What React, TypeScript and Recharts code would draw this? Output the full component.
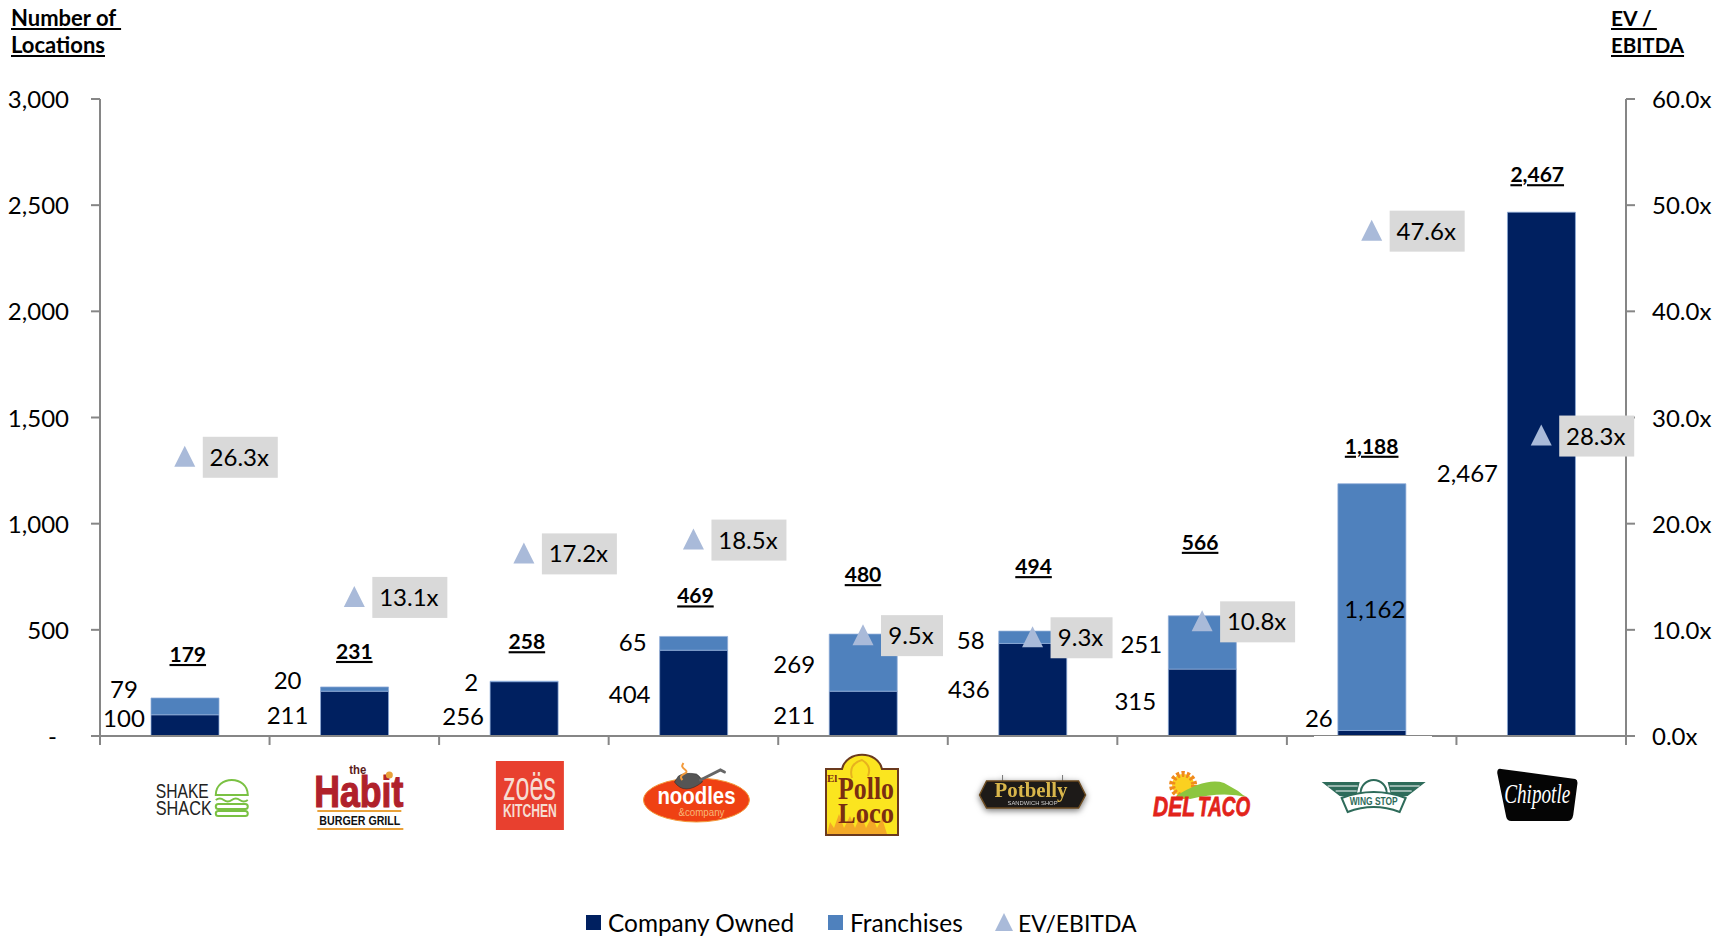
import { Bar, ComposedChart, LabelList, Legend, Line, XAxis, YAxis } from "recharts";

const chains = ["Shake Shack", "The Habit", "Zoës Kitchen", "Noodles & Company", "El Pollo Loco", "Potbelly", "Del Taco", "Wing Stop", "Chipotle"];
const companyOwned = [100, 211, 256, 404, 211, 436, 315, 26, 2467];
const franchises = [79, 20, 2, 65, 269, 58, 251, 1162, 0];
const totals = [179, 231, 258, 469, 480, 494, 566, 1188, 2467];
const evEbitda = [26.3, 13.1, 17.2, 18.5, 9.5, 9.3, 10.8, 47.6, 28.3];
const locationTicks = [0, 500, 1000, 1500, 2000, 2500, 3000];
const multipleTicks = [0, 10, 20, 30, 40, 50, 60];

const rows = chains.map((name, i) => ({
  name,
  owned: companyOwned[i],
  franchised: franchises[i],
  total: totals[i],
  multiple: evEbitda[i]
}));

// Hand placement of the data labels, as [dx, dy] from the default spot.
const ownedNudge = [[-61, -7], [-67, 1], [-61, 7], [-64, 1], [-69, 1], [-64, -1], [-67, -2], [-53, -15], [-74, -1]];
const franchiseNudge = [[-61, -17], [-67, -9], [-53, 1], [-61, -1], [-69, 1], [-62, 3], [-61, 2], [3, 2], [0, 0]];
const totalNudge = [[3, -43], [0, -35], [3, -39], [2, -40], [0, -59], [1, -64], [-2, -73], [0, -37], [-4, -37]];

const FONT = "Lato, sans-serif";
const NAVY = "#002060";
const BLUE = "#4F81BD";
const TRIANGLE = "#A9BAD9";
const AXIS = "#868686";
const EDGE = "#8FACD8";
const CHART_W = 1712;
const CHART_H = 937;
const PLOT_LEFT = 100;
const PLOT_RIGHT = 1626;
const BAND = (PLOT_RIGHT - PLOT_LEFT) / chains.length;

const fmt = (v: number) => v.toLocaleString("en-US");

const ShakeShack = () => (
  <g>
    <text x={-46} y={0} fontFamily="Liberation Sans Narrow, Liberation Sans" fontSize={20} textLength={53} lengthAdjust="spacingAndGlyphs" fill="#222">SHAKE</text>
    <text x={-46} y={17} fontFamily="Liberation Sans Narrow, Liberation Sans" fontSize={20} textLength={56} lengthAdjust="spacingAndGlyphs" fill="#222">SHACK</text>
    <g fill="none" stroke="#7AC143" strokeWidth={2}>
      <path d="M14 -3 C14 -23 46 -23 46 -3 Z" />
      <path d="M14 2 q4 -3 8 0 t8 0 t8 0 t8 0" />
      <rect x={14} y={6} width={32} height={5} rx={2.5} />
      <rect x={14} y={13} width={32} height={5} rx={2.5} />
    </g>
  </g>
);

const Habit = () => (
  <g>
    <text x={-10} y={-23} fontFamily="Liberation Sans" fontWeight={700} fontSize={13} textLength={17} lengthAdjust="spacingAndGlyphs" fill="#5a1a1a">the</text>
    <text x={-45} y={10} fontFamily="Liberation Sans" fontWeight={700} fontSize={44} textLength={89} lengthAdjust="spacingAndGlyphs" fill="#B0212B" stroke="#B0212B" strokeWidth={1.2}>Habit</text>
    <circle cx={30} cy={-22} r={3.5} fill="#E9A23B" />
    <rect x={-42} y={13} width={84} height={2} fill="#E9A23B" />
    <text x={-40} y={28} fontFamily="Liberation Sans" fontWeight={700} fontSize={13} textLength={81} lengthAdjust="spacingAndGlyphs" fill="#111">BURGER GRILL</text>
    <rect x={-42} y={31} width={86} height={2} fill="#E9A23B" />
  </g>
);

const Zoes = () => (
  <g>
    <rect x={-34} y={-35} width={68} height={69} fill="#E8402F" />
    <text x={-27} y={4} fontFamily="Liberation Sans Narrow, Liberation Sans" fontSize={40} textLength={53} lengthAdjust="spacingAndGlyphs" fill="#F6DDD3">zoës</text>
    <text x={-27} y={21} fontFamily="Liberation Sans Narrow, Liberation Sans" fontWeight={700} fontSize={18} textLength={54} lengthAdjust="spacingAndGlyphs" fill="#F6DDD3">KITCHEN</text>
  </g>
);

const Noodles = () => (
  <g>
    <ellipse cx={0} cy={4} rx={53} ry={22} fill="#EF4113" stroke="#F39A3B" strokeWidth={1} />
    <path d="M-22 -14 q10 14 28 0 q-2 -6 -6 -8 q-12 -2 -18 2 Z" fill="#555" stroke="#222" strokeWidth={0.5} />
    <path d="M4 -16 L24 -26 L28 -24" fill="none" stroke="#666" strokeWidth={3} strokeLinecap="round" />
    <path d="M-14 -16 c-6 -6 8 -6 3 -10 c-4 -3 -4 -4 -2 -7" fill="none" stroke="#F39A3B" strokeWidth={2} />
    <text x={-39} y={8} fontFamily="Liberation Sans" fontWeight={700} fontSize={23} textLength={78} lengthAdjust="spacingAndGlyphs" fill="#fff">noodles</text>
    <text x={-18} y={20} fontFamily="Liberation Sans" fontSize={10} textLength={46} lengthAdjust="spacingAndGlyphs" fill="#F7B77A">&company</text>
  </g>
);

const PolloLoco = () => (
  <g>
    <path d="M-36 -27 H-20 C-16 -46 16 -46 20 -27 H36 V39 H-36 Z" fill="#FBE51F" stroke="#6B3A1E" strokeWidth={2} />
    <path d="M-35 38 l3 -12 l4 6 l5 -14 l5 14 l6 -12 l5 12 l6 -14 l5 14 l6 -12 l5 12 l5 -10 l5 16 Z" fill="#F3A928" />
    <path d="M-10 -18 q-4 -14 10 -18 q10 6 6 16" fill="none" stroke="#E7B21F" strokeWidth={2} />
    <text x={-35} y={-14} fontFamily="Liberation Serif" fontWeight={700} fontSize={11} fill="#7A2E12">El</text>
    <text x={-24} y={3} fontFamily="Liberation Serif" fontWeight={700} fontSize={32} textLength={56} lengthAdjust="spacingAndGlyphs" fill="#7A2E12">Pollo</text>
    <text x={-24} y={27} fontFamily="Liberation Serif" fontWeight={700} fontSize={30} textLength={56} lengthAdjust="spacingAndGlyphs" fill="#7A2E12">Loco</text>
  </g>
);

const Potbelly = () => (
  <g style={{ filter: "drop-shadow(0 2px 3px rgba(0,0,0,0.55))" }}>
    <path d="M-30 -18 V-12 M30 -18 V-12" stroke="#777" strokeWidth={1} />
    <path d="M-46 -12 H46 L50 -4 L53 2 L46 15 H-46 L-53 2 L-50 -4 Z" fill="#1D1A18" stroke="#6B4A1F" strokeWidth={1.5} />
    <text x={-38} y={4} fontFamily="Liberation Serif" fontWeight={700} fontSize={20} textLength={73} lengthAdjust="spacingAndGlyphs" fill="#D9B64B">Potbelly</text>
    <text x={-25} y={12} fontFamily="Liberation Sans" fontSize={6} textLength={50} lengthAdjust="spacingAndGlyphs" fill="#CFCFCF">SANDWICH SHOP</text>
  </g>
);

const DelTaco = () => (
  <g>
    <circle cx={-17} cy={-8} r={11} fill="#FBD020" stroke="#F08A1D" strokeWidth={6} strokeDasharray="3 2" />
    <path d="M-24 3 Q6 -16 24 -10 L38 -2 Q42 2 47 4 Q22 -2 -10 6 Z" fill="#8CC63F" />
    <text x={-47} y={23} fontFamily="Liberation Sans" fontWeight={700} fontStyle="italic" fontSize={27} textLength={42} lengthAdjust="spacingAndGlyphs" fill="#E2231A" stroke="#E2231A" strokeWidth={0.8}>DEL</text>
    <text x={-2} y={23} fontFamily="Liberation Sans" fontWeight={700} fontStyle="italic" fontSize={27} textLength={52} lengthAdjust="spacingAndGlyphs" fill="#E2231A" stroke="#E2231A" strokeWidth={0.8}>TACO</text>
  </g>
);

const WingStop = () => (
  <g fill="#2E6B5A">
    <path d="M-52 -14 H-14 L-18 2 L-34 0 Z M52 -14 H14 L18 2 L34 0 Z" />
    <path d="M-46 -10 H-16 M-38 -5 H-17 M46 -10 H16 M38 -5 H17" stroke="#fff" strokeWidth={1.2} />
    <circle cx={0} cy={-3} r={13} fill="#fff" stroke="#2E6B5A" strokeWidth={2} />
    <path d="M-32 2 Q0 -10 32 2 L26 16 Q0 6 -26 16 Z" fill="#fff" stroke="#2E6B5A" strokeWidth={2} />
    <text x={-24} y={9} fontFamily="Liberation Sans" fontWeight={700} fontSize={10} textLength={48} lengthAdjust="spacingAndGlyphs">WING STOP</text>
  </g>
);

const Chipotle = () => (
  <g>
    <path d="M-36 -26 L38 -16 Q41 -15 40 -10 L36 20 Q35 26 30 26 H-26 Q-30 26 -31 22 L-40 -22 Q-40 -27 -36 -26 Z" fill="#050505" />
    <text x={-33} y={8} fontFamily="Liberation Serif" fontStyle="italic" fontSize={27} textLength={66} lengthAdjust="spacingAndGlyphs" fill="#fff">Chipotle</text>
  </g>
);

// Logo and its centre relative to the middle of each category band.
const logos: [() => React.ReactElement, number, number][] = [
  [ShakeShack, 17, 798],
  [Habit, 5, 797],
  [Zoes, 6, 796],
  [Noodles, 3, 796],
  [PolloLoco, -1, 796],
  [Potbelly, 0, 793],
  [DelTaco, -2, 793],
  [WingStop, 2, 796],
  [Chipotle, -4, 795]
];

const CategoryTick = (props: any) => {
  const { x, index } = props;
  const [Logo, dx, cy] = logos[index];
  const left = x - BAND / 2;
  return (
    <g>
      <line x1={left} x2={left} y1={736} y2={745} stroke={AXIS} strokeWidth={2} />
      {index === chains.length - 1 && <line x1={left + BAND} x2={left + BAND} y1={736} y2={745} stroke={AXIS} strokeWidth={2} />}
      <g transform={`translate(${x + dx} ${cy})`}>
        <Logo />
      </g>
    </g>
  );
};

const LocationTick = (props: any) => {
  const { x, y, payload } = props;
  const zero = payload.value === 0;
  return (
    <text x={zero ? x - 12 : x} y={y} dy={9} textAnchor="end" fontFamily={FONT} fontSize={24} fill="#000">
      {zero ? "-" : fmt(payload.value)}
    </text>
  );
};

const MultipleTick = (props: any) => {
  const { x, y, payload } = props;
  return (
    <text x={x} y={y} dy={9} textAnchor="start" fontFamily={FONT} fontSize={24} fill="#000">
      {payload.value.toFixed(1)}x
    </text>
  );
};

const segmentLabel = (nudge: number[][]) => (props: any) => {
  const { x, y, width, height, value, index } = props;
  if (!value) return null;
  const [dx, dy] = nudge[index];
  return (
    <text x={x + width / 2 + dx} y={y + height / 2 + dy} dy={9} textAnchor="middle" fontFamily={FONT} fontSize={24} fill="#000">
      {fmt(value)}
    </text>
  );
};

const TotalLabel = (props: any) => {
  const { x, y, value, index } = props;
  const [dx, dy] = totalNudge[index];
  return (
    <text x={x + dx} y={y + dy} dy={7} textAnchor="middle" fontFamily={FONT} fontSize={21} fontWeight={700} textDecoration="underline" fill="#000">
      {fmt(value)}
    </text>
  );
};

const TriangleDot = (props: any) => {
  const { cx, cy, index } = props;
  return <path key={index} d={`M${cx} ${cy - 11} L${cx + 10.5} ${cy + 10} H${cx - 10.5} Z`} fill={TRIANGLE} />;
};

const MultipleLabel = (props: any) => {
  const { x, y, value } = props;
  const text = `${value.toFixed(1)}x`;
  const w = text.length > 4 ? 75 : 62;
  return (
    <g>
      <rect x={x + 18} y={y - 20} width={w} height={41} fill="#D9D9D9" />
      <text x={x + 17 + w / 2} y={y} dy={9} textAnchor="middle" fontFamily={FONT} fontSize={24} fill="#000">
        {text}
      </text>
    </g>
  );
};

const LegendRow = () => {
  const text = { position: "absolute", top: 906, fontFamily: FONT, fontSize: 24, lineHeight: "34px", whiteSpace: "nowrap", color: "#000" } as const;
  const swatch = (left: number, background: string) => (
    <div style={{ position: "absolute", left, top: 915, width: 15, height: 15, background }} />
  );
  return (
    <div style={{ position: "absolute", left: 0, top: 0, height: 0 }}>
      {swatch(586, NAVY)}
      <span style={{ ...text, left: 608, fontSize: 24.4 }}>Company Owned</span>
      {swatch(828, BLUE)}
      <span style={{ ...text, left: 850, fontSize: 24.5 }}>Franchises</span>
      <svg style={{ position: "absolute", left: 994, top: 912 }} width={20} height={20}>
        <path d="M10 1 L19 19 H1 Z" fill={TRIANGLE} />
      </svg>
      <span style={{ ...text, left: 1018, fontSize: 23 }}>EV/EBITDA</span>
    </div>
  );
};

const headingStyle = {
  position: "absolute",
  fontFamily: FONT,
  fontWeight: 700,
  lineHeight: "28px",
  textDecoration: "underline",
  whiteSpace: "pre",
  color: "#000"
} as const;

export default function App() {
  return (
    <div style={{ position: "absolute", left: 0, top: 0, width: CHART_W, height: CHART_H, background: "#fff", overflow: "hidden" }}>
      <ComposedChart
        width={CHART_W}
        height={CHART_H}
        data={rows}
        barCategoryGap={0}
        margin={{ top: 99, right: 0, bottom: 0, left: 0 }}
      >
        <XAxis
          dataKey="name"
          height={201}
          axisLine={{ stroke: AXIS, strokeWidth: 2 }}
          tickLine={false}
          interval={0}
          tick={CategoryTick}
        />
        <YAxis
          yAxisId="locations"
          width={PLOT_LEFT}
          domain={[0, 3000]}
          ticks={locationTicks}
          interval={0}
          axisLine={{ stroke: AXIS, strokeWidth: 2 }}
          tickLine={{ stroke: AXIS, strokeWidth: 2 }}
          tickSize={9}
          tickMargin={22}
          tick={LocationTick}
        />
        <YAxis
          yAxisId="multiple"
          orientation="right"
          width={CHART_W - PLOT_RIGHT}
          domain={[0, 60]}
          ticks={multipleTicks}
          interval={0}
          axisLine={{ stroke: AXIS, strokeWidth: 2 }}
          tickLine={{ stroke: AXIS, strokeWidth: 2 }}
          tickSize={9}
          tickMargin={17}
          tick={MultipleTick}
        />
        <Legend verticalAlign="bottom" height={0} wrapperStyle={{ left: 0, top: 0, bottom: "auto", width: 0, height: 0 }} content={LegendRow} />
        <Bar yAxisId="locations" dataKey="owned" stackId="stores" barSize={68} fill={NAVY} stroke={EDGE} strokeWidth={0.75} isAnimationActive={false}>
          <LabelList dataKey="owned" content={segmentLabel(ownedNudge)} />
        </Bar>
        <Bar yAxisId="locations" dataKey="franchised" stackId="stores" barSize={68} fill={BLUE} stroke={EDGE} strokeWidth={0.75} isAnimationActive={false}>
          <LabelList dataKey="franchised" content={segmentLabel(franchiseNudge)} />
        </Bar>
        <Line yAxisId="locations" dataKey="total" stroke="none" dot={false} activeDot={false} isAnimationActive={false}>
          <LabelList dataKey="total" content={TotalLabel} />
        </Line>
        <Line yAxisId="multiple" dataKey="multiple" stroke="none" dot={TriangleDot} activeDot={false} isAnimationActive={false}>
          <LabelList dataKey="multiple" content={MultipleLabel} />
        </Line>
      </ComposedChart>
      {/* the axis runs thin under the Wing Stop column */}
      <div style={{ position: "absolute", left: 1314, top: 736, width: 118, height: 1, background: "#fff" }} />
      <div style={{ ...headingStyle, fontSize: 22, left: 11, top: 4 }}>{"Number of "}</div>
      <div style={{ ...headingStyle, fontSize: 22, left: 11, top: 31 }}>Locations</div>
      <div style={{ ...headingStyle, fontSize: 21, left: 1611, top: 4 }}>{"EV / "}</div>
      <div style={{ ...headingStyle, fontSize: 20.5, left: 1611, top: 31 }}>EBITDA</div>
    </div>
  );
}
